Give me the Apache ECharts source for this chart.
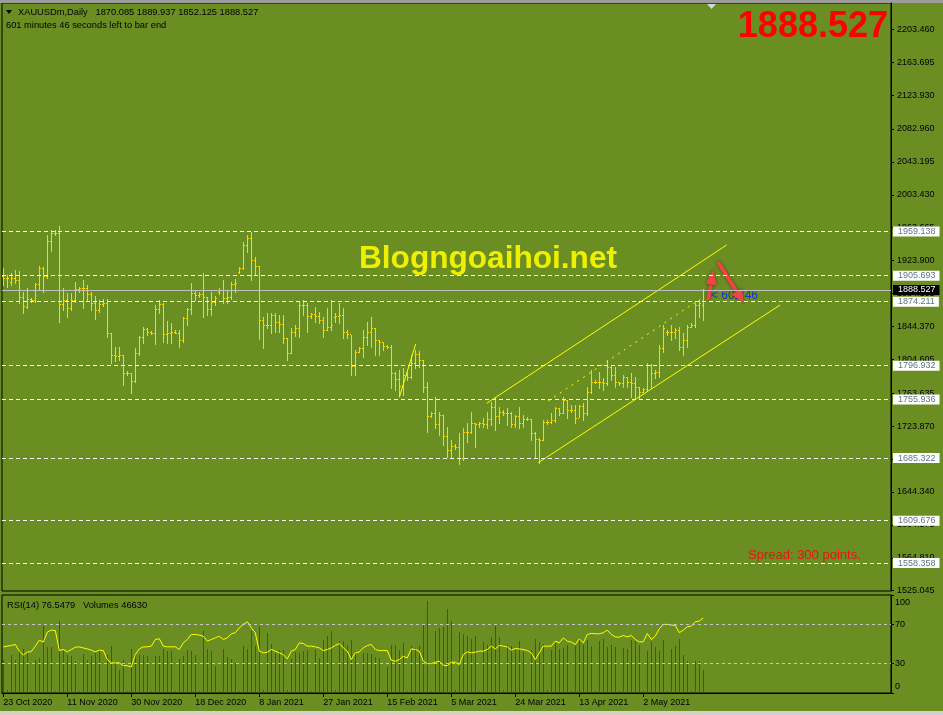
<!DOCTYPE html>
<html><head><meta charset="utf-8">
<script src="https://cdn.jsdelivr.net/npm/echarts@6/dist/echarts.min.js"></script>
<style>html,body{margin:0;padding:0;background:#6b8e23;}#c{width:943px;height:715px;}</style>
</head><body><div id="c"></div>
<script>
const tickLabels = ['23 Oct 2020','11 Nov 2020','30 Nov 2020','18 Dec 2020','8 Jan 2021','27 Jan 2021','15 Feb 2021','5 Mar 2021','24 Mar 2021','13 Apr 2021','2 May 2021'];
const tickIndex = [0,16,32,48,64,80,96,112,128,144,160];

const opens = [1905.0,1902.5,1898.5,1902.5,1900.5,1879.5,1868.0,1877.1,1876.3,1895.7,
1914.6,1905.3,1947.6,1956.9,1957.7,1871.5,1876.3,1866.3,1876.3,1889.2,
1890.4,1890.4,1883.6,1873.1,1864.2,1871.1,1872.3,1836.0,1809.9,1808.7,
1809.9,1787.7,1788.5,1778.8,1812.7,1831.2,1840.9,1838.1,1836.0,1865.0,
1871.5,1835.2,1836.9,1838.1,1836.9,1828.0,1854.2,1865.0,1885.2,1882.0,
1883.6,1880.4,1865.0,1874.3,1886.0,1888.4,1878.3,1879.5,1895.7,1910.6,
1914.6,1942.8,1950.8,1924.7,1917.4,1852.2,1846.1,1846.1,1858.2,1850.1,
1847.3,1830.0,1811.9,1838.1,1842.1,1870.3,1870.3,1857.0,1859.4,1857.0,
1852.2,1840.1,1844.1,1856.0,1857.0,1858.2,1838.1,1835.2,1796.6,1813.9,
1817.9,1831.2,1838.1,1842.1,1828.0,1826.0,1820.7,1819.9,1788.5,1780.5,
1772.4,1785.7,1783.7,1799.8,1811.1,1803.8,1771.6,1736.2,1739.4,1726.5,
1737.4,1712.0,1695.1,1700.0,1699.0,1685.0,1717.2,1717.2,1727.3,1726.5,
1727.3,1726.5,1732.1,1747.4,1736.2,1741.4,1739.4,1740.2,1726.5,1736.2,
1728.1,1732.1,1732.1,1715.2,1707.9,1707.1,1729.3,1729.3,1731.3,1745.4,
1739.4,1755.5,1743.4,1743.4,1733.3,1748.2,1739.4,1765.5,1777.6,1777.6,
1777.6,1775.6,1795.7,1785.7,1777.6,1775.6,1783.7,1777.6,1775.6,1771.6,
1765.5,1768.3,1797.7,1787.7,1789.7,1817.9,1838.0,1838.0,1838.1,1840.1,
1819.9,1828.0,1844.1,1846.1,1870.3,1870.085];

const highs = [1914.6,1906.5,1908.6,1912.6,1911.4,1886.4,1890.4,1878.3,1896.5,1917.4,
1916.6,1954.9,1960.9,1960.9,1965.7,1890.4,1885.2,1885.2,1898.5,1892.4,
1900.5,1894.5,1886.4,1881.2,1876.3,1877.1,1877.1,1836.0,1819.1,1819.1,
1809.9,1790.9,1788.5,1817.9,1832.8,1844.1,1842.1,1839.0,1870.3,1876.3,
1872.3,1851.4,1848.1,1840.1,1840.1,1856.2,1866.3,1896.5,1888.4,1886.4,
1908.6,1880.4,1886.4,1881.2,1890.4,1900.5,1887.6,1898.5,1901.3,1915.8,
1946.8,1954.9,1958.9,1928.7,1917.4,1856.2,1860.2,1860.2,1860.2,1858.2,
1858.2,1830.0,1842.1,1846.1,1874.3,1876.3,1872.3,1860.2,1868.3,1862.2,
1856.2,1866.3,1876.3,1860.2,1872.3,1866.3,1840.0,1834.0,1815.9,1819.9,
1840.1,1850.2,1856.2,1843.0,1828.0,1826.0,1822.0,1822.0,1789.0,1791.7,
1793.8,1789.7,1809.9,1815.9,1815.1,1803.8,1777.6,1741.4,1759.5,1741.4,
1737.4,1723.3,1707.2,1702.0,1715.2,1721.3,1727.3,1741.4,1727.3,1729.3,
1733.3,1741.4,1753.5,1757.5,1747.4,1743.0,1745.4,1741.4,1737.4,1747.4,
1737.4,1734.5,1733.0,1717.2,1709.0,1731.3,1731.0,1739.4,1747.4,1745.4,
1759.5,1755.5,1749.0,1749.4,1749.4,1751.4,1771.6,1791.7,1779.6,1789.7,
1781.6,1803.8,1797.8,1795.7,1777.6,1785.7,1783.7,1787.7,1783.7,1771.6,
1769.6,1799.8,1799.0,1791.7,1821.9,1846.1,1840.1,1846.1,1842.1,1844.1,
1836.0,1846.1,1848.1,1872.3,1876.3,1889.937];

const lows = [1894.5,1892.0,1894.5,1896.5,1872.3,1860.2,1866.3,1874.3,1874.3,1888.4,
1886.4,1902.5,1935.9,1954.9,1850.1,1864.2,1856.2,1864.2,1874.3,1886.4,
1866.3,1876.3,1864.2,1853.0,1862.0,1869.5,1832.0,1800.6,1803.0,1803.8,
1773.6,1785.7,1764.3,1777.0,1810.0,1824.0,1834.0,1835.0,1823.2,1860.2,
1826.0,1824.0,1824.0,1836.5,1819.9,1826.0,1846.1,1860.0,1876.3,1880.0,
1855.4,1858.2,1858.2,1870.3,1884.0,1872.3,1872.3,1877.1,1886.4,1908.6,
1913.4,1934.7,1900.5,1906.5,1828.8,1817.9,1842.1,1837.0,1838.1,1838.1,
1824.0,1803.8,1811.9,1832.8,1832.0,1858.2,1838.1,1855.0,1850.0,1848.1,
1832.0,1840.1,1840.1,1850.2,1848.1,1830.0,1830.0,1785.7,1785.7,1813.9,
1807.9,1822.0,1819.9,1809.9,1809.9,1816.0,1817.9,1769.6,1767.6,1761.5,
1761.5,1779.7,1781.7,1793.8,1795.8,1765.6,1717.2,1735.3,1721.3,1713.2,
1701.1,1687.0,1687.0,1696.0,1678.1,1683.0,1705.0,1715.0,1699.1,1723.3,
1723.3,1721.3,1725.3,1719.2,1727.3,1737.0,1725.3,1723.3,1723.3,1722.1,
1723.3,1731.3,1707.1,1685.0,1679.7,1707.1,1727.0,1727.3,1729.3,1737.4,
1739.4,1733.3,1741.0,1727.3,1735.3,1731.3,1737.4,1763.5,1775.6,1769.6,
1767.6,1773.6,1779.6,1771.6,1773.6,1771.6,1771.6,1759.5,1757.5,1757.5,
1765.5,1766.0,1771.6,1781.6,1783.7,1813.9,1834.0,1828.0,1830.0,1815.9,
1809.8,1819.9,1844.1,1844.1,1856.2,1852.125];

const closes = [1902.5,1902.5,1902.5,1900.5,1879.5,1869.1,1877.1,1876.3,1895.7,1914.6,
1905.3,1947.6,1956.9,1957.7,1871.5,1876.3,1866.3,1876.3,1889.2,1890.4,
1890.4,1883.6,1873.1,1864.2,1871.1,1872.3,1836.0,1809.9,1808.7,1809.9,
1787.7,1788.5,1778.8,1812.7,1831.2,1840.9,1838.1,1836.0,1865.0,1871.5,
1835.2,1836.9,1838.1,1836.9,1828.0,1854.2,1865.0,1885.2,1882.0,1883.6,
1880.4,1865.0,1874.3,1878.3,1888.4,1878.3,1879.5,1895.7,1896.5,1914.6,
1942.8,1950.8,1924.7,1917.4,1852.2,1846.1,1846.1,1858.2,1850.1,1847.3,
1830.0,1811.9,1838.1,1842.1,1870.3,1870.3,1857.0,1859.4,1857.0,1852.2,
1840.1,1844.1,1846.1,1857.0,1858.2,1838.1,1835.2,1796.6,1813.9,1817.9,
1831.2,1838.1,1842.1,1828.0,1826.0,1820.7,1819.9,1788.5,1780.5,1772.4,
1785.7,1783.7,1799.8,1811.1,1803.8,1771.6,1736.2,1739.4,1726.5,1737.4,
1712.0,1695.1,1700.0,1699.0,1685.0,1717.2,1717.2,1727.3,1726.5,1727.3,
1726.5,1732.1,1747.4,1736.2,1741.4,1739.4,1740.2,1726.5,1736.2,1728.1,
1732.1,1732.1,1715.2,1707.9,1707.1,1729.3,1729.3,1731.3,1745.4,1739.4,
1755.5,1743.4,1743.4,1733.3,1748.2,1739.4,1765.5,1777.6,1777.6,1777.6,
1775.6,1795.7,1785.7,1777.6,1775.6,1783.7,1777.6,1775.6,1771.6,1765.5,
1768.3,1797.7,1787.7,1789.7,1817.9,1842.1,1838.0,1838.1,1840.1,1819.9,
1828.0,1844.1,1846.1,1870.3,1872.3,1888.527];

const volumes = [67230,5490,77520,67230,89180,90550,83690,3430,68600,72030,
137200,93980,93980,3430,148860,85750,78890,75460,65170,3430,
80950,68600,76830,82320,89180,3430,78890,96040,63110,48020,
68600,3430,91240,78890,78890,78890,75460,3430,76830,75460,
90550,85750,85750,3430,70660,75460,89180,85750,78890,3430,
126910,91240,85750,56250,3430,90550,73400,69970,61740,3430,
96040,91240,126910,97410,137200,5490,123480,100840,82320,89180,
87810,6860,69970,83690,82320,85750,89180,3430,89180,72030,
109760,116620,126910,6860,106330,106330,99470,109760,85750,3430,
82320,82320,80950,73400,72030,3430,52820,99470,99470,87810,
102900,3430,97410,92610,97410,140630,188650,3430,128280,133770,
135140,173560,148860,5490,125540,122110,116620,111130,117990,3430,
104270,99470,114560,137200,114560,5490,99470,96040,89180,106330,
83690,3430,89180,111130,104270,101530,5490,89180,102900,90550,
92610,99470,3430,97410,111130,99470,109760,97410,3430,106330,
111130,93980,99470,94670,3430,92610,91240,108390,107700,99470,
3430,85750,104270,93980,87120,109760,3430,91240,96040,111820,
78890,65170,3430,65170,65170,46630];

const rsi = [47.1,47.8,48.5,49.5,42.7,38.9,41.6,42.3,47.8,53.9,
51.9,62.1,64.2,63.8,43.3,44.4,42.0,44.4,46.7,47.1,
46.0,45.0,43.7,42.0,43.7,43.3,34.1,30.7,30.7,30.7,
27.9,27.9,26.6,39.2,45.0,47.1,47.1,47.8,54.6,55.3,
47.8,47.1,47.1,47.1,44.4,51.2,54.6,59.7,59.7,59.1,
58.0,52.9,54.6,56.3,58.0,54.6,56.3,60.4,61.5,66.6,
70.0,72.7,66.6,61.5,42.7,41.0,41.6,44.4,42.7,41.0,
39.2,34.8,42.7,44.4,51.2,50.5,47.8,47.8,47.1,46.0,
43.3,44.4,46.0,48.5,50.5,46.0,42.7,34.1,41.0,42.0,
46.0,48.5,49.5,44.4,43.3,43.3,43.3,33.4,32.4,34.1,
37.5,35.8,45.0,44.4,42.7,32.4,30.0,30.0,31.4,32.4,
28.3,27.9,31.4,31.4,29.0,39.2,42.0,41.0,41.6,42.7,
42.7,44.4,47.8,45.0,48.5,47.8,47.1,43.7,45.4,45.0,
44.4,43.3,41.0,34.1,41.0,47.8,47.8,47.8,52.9,51.2,
56.3,52.9,51.9,49.5,55.3,51.2,59.7,60.8,60.4,60.4,
61.5,64.2,59.7,57.3,57.0,58.7,57.3,58.7,54.6,52.2,
52.2,60.8,54.6,58.0,65.6,70.0,70.0,69.3,69.0,61.5,
64.2,67.6,68.3,72.7,73.4,76.55];

const priceTicks = [2203.460,2163.695,2123.930,2082.960,2043.195,2003.430,1963.665,1923.900,1884.135,1844.370,1804.605,1763.635,1723.870,1684.105,1644.340,1604.575,1564.810,1525.045];
const rsiTicks = [0,30,70,100];
const rsiLevels = [70,30];
const levelLines = [1959.138,1905.693,1874.211,1796.932,1755.936,1685.322,1609.676,1558.358];
const lastPrice = 1888.527;
const upperChannel = [[120.85,1751.5],[180.85,1942.8]];
const lowerChannel = [[133.75,1679.7],[194.2,1870.3]];
const midDotted = [[136.25,1754.3],[174.2,1877.5]];
const febLine = [[99.0,1758.7],[103.1,1823.1]];

const F = '"Liberation Sans", Arial, sans-serif';
const X_MIN = -0.325, X_MAX = 221.925;
const BAR = '#FFD700';

const ohlcData = opens.map((o, i) => [i, o, highs[i], lows[i], closes[i]]);
const volData = volumes.map((v, i) => [i, v, (i > 0 && v > volumes[i-1]) ? 1 : 0]);
const rsiData = rsi.map((v, i) => [i, v]);

const chart = echarts.init(document.getElementById('c'), null, {renderer: 'canvas', width: 943, height: 715});

function ohlcItem(params, api) {
  const i = api.value(0);
  const o = api.coord([i, api.value(1)]);
  const h = api.coord([i, api.value(2)]);
  const l = api.coord([i, api.value(3)]);
  const c = api.coord([i, api.value(4)]);
  const x = Math.floor(o[0]);
  const yh = Math.round(h[1]), yl = Math.round(l[1]);
  return {type: 'group', children: [
    {type: 'rect', shape: {x: x, y: yh, width: 1, height: Math.max(1, yl - yh + 1)}, style: {fill: BAR}},
    {type: 'rect', shape: {x: x - 1, y: Math.round(o[1]), width: 1, height: 1}, style: {fill: BAR}},
    {type: 'rect', shape: {x: x + 1, y: Math.round(c[1]), width: 1, height: 1}, style: {fill: BAR}}
  ]};
}
function volItem(params, api) {
  const i = api.value(0);
  const top = api.coord([i, api.value(1)]);
  const bot = api.coord([i, 0]);
  const x = Math.floor(top[0]);
  const yt = Math.round(top[1]);
  return {type: 'rect', shape: {x: x, y: yt, width: 1, height: Math.round(bot[1]) - yt}, style: {fill: api.value(2) ? '#008000' : '#ff0000'}};
}

const option = {
  backgroundColor: '#6b8e23',
  animation: false,
  grid: [
    {left: 2, right: 52, top: 3, height: 588, show: true, borderColor: '#000', borderWidth: 1},
    {left: 2, right: 52, top: 595, height: 98, show: true, borderColor: '#000', borderWidth: 1}
  ],
  xAxis: [
    {type: 'value', gridIndex: 0, min: X_MIN, max: X_MAX, show: false, axisLine: {onZero: false}},
    {type: 'value', gridIndex: 1, min: X_MIN, max: X_MAX, splitLine: {show: false},
      axisLine: {show: true, onZero: false, lineStyle: {color: '#000'}},
      axisTick: {show: true, customValues: tickIndex, length: 4, lineStyle: {color: '#000'}},
      axisLabel: {customValues: tickIndex, formatter: v => tickLabels[tickIndex.indexOf(Math.round(v))] || '',
        align: 'left', margin: 5, fontSize: 9, fontFamily: F, color: '#000'}}
  ],
  yAxis: [
    {type: 'value', gridIndex: 0, min: 1524.66, max: 2235.24, position: 'right', splitLine: {show: false},
      axisLine: {show: true, onZero: false, lineStyle: {color: '#000'}},
      axisTick: {show: true, customValues: priceTicks, length: 3, lineStyle: {color: '#000'}},
      axisLabel: {customValues: priceTicks, formatter: v => v.toFixed(3), margin: 6, fontSize: 9, fontFamily: F, color: '#000'}},
    {type: 'value', gridIndex: 1, min: 0, max: 100, position: 'right', splitLine: {show: false},
      axisLine: {show: true, onZero: false, lineStyle: {color: '#000'}},
      axisTick: {show: true, customValues: rsiTicks, length: 3, lineStyle: {color: '#000'}},
      axisLabel: {customValues: rsiTicks, margin: 4, fontSize: 9, fontFamily: F, color: '#000',
        formatter: v => v >= 99 ? '{t|100}' : (v <= 1 ? '{b|0}' : String(Math.round(v))),
        rich: {t: {padding: [15, 0, 0, 0], fontSize: 9, fontFamily: F, color: '#000'},
               b: {padding: [0, 0, 13, 0], fontSize: 9, fontFamily: F, color: '#000'}}}},
    {type: 'value', gridIndex: 1, min: 0, max: 201700, show: false, axisLine: {onZero: false}}
  ],
  series: [
    {type: 'line', xAxisIndex: 0, yAxisIndex: 0, data: [], z: 1, silent: true,
      markLine: {silent: true, symbol: 'none', animation: false,
        data: levelLines.map(v => ({yAxis: v, name: v.toFixed(3)})),
        lineStyle: {color: '#ffffff', type: [4, 3], width: 1},
        label: {position: 'end', distance: 2, formatter: p => p.name,
          backgroundColor: '#ffffff', color: '#5f7686', fontSize: 9, fontFamily: F, padding: [1, 4, 0, 5], lineHeight: 9}}},
    {type: 'custom', xAxisIndex: 0, yAxisIndex: 0, data: ohlcData, renderItem: ohlcItem, z: 2, silent: true,
      encode: {x: 0, y: [1, 2, 3, 4]}},
    {type: 'line', xAxisIndex: 0, yAxisIndex: 0, data: [], z: 3, silent: true,
      markLine: {silent: true, symbol: 'none', animation: false,
        data: [{yAxis: lastPrice, name: lastPrice.toFixed(3)}],
        lineStyle: {color: '#c0c0c0', type: 'solid', width: 1},
        label: {position: 'end', distance: 2, formatter: p => p.name,
          backgroundColor: '#000000', color: '#ffffff', fontSize: 9, fontFamily: F, padding: [1, 4, 0, 5], lineHeight: 9}}},
    {type: 'line', xAxisIndex: 0, yAxisIndex: 0, data: upperChannel, symbol: 'none', z: 4, silent: true,
      lineStyle: {color: '#ffff00', width: 1}},
    {type: 'line', xAxisIndex: 0, yAxisIndex: 0, data: lowerChannel, symbol: 'none', z: 4, silent: true,
      lineStyle: {color: '#ffff00', width: 1}},
    {type: 'line', xAxisIndex: 0, yAxisIndex: 0, data: midDotted, symbol: 'none', z: 4, silent: true,
      lineStyle: {color: '#ffff00', width: 1, type: [2, 5]}},
    {type: 'line', xAxisIndex: 0, yAxisIndex: 0, data: febLine, symbol: 'none', z: 4, silent: true,
      lineStyle: {color: '#ffff00', width: 1}},
    {type: 'custom', xAxisIndex: 1, yAxisIndex: 2, data: volData, renderItem: volItem, z: 2, silent: true,
      encode: {x: 0, y: 1}},
    {type: 'line', xAxisIndex: 1, yAxisIndex: 1, data: rsiData, symbol: 'none', z: 3, silent: true,
      lineStyle: {color: '#ffff00', width: 1},
      markLine: {silent: true, symbol: 'none', animation: false, data: rsiLevels.map(v => ({yAxis: v})),
        lineStyle: {color: '#c8c8c8', type: [3, 3], width: 1}, label: {show: false}}}
  ],
  graphic: [
    {type: 'rect', shape: {x: 0, y: 0, width: 943, height: 3}, style: {fill: '#9c9c9c'}, silent: true},
    {type: 'rect', shape: {x: 0, y: 711, width: 943, height: 4}, style: {fill: '#d4d0c8'}, silent: true},
    {type: 'polygon', shape: {points: [[707, 4], [716, 4], [711.5, 9]]}, style: {fill: '#d8d8d8'}, silent: true},
    {type: 'polygon', shape: {points: [[6, 10], [12, 10], [9, 14]]}, style: {fill: '#000'}, silent: true},
    {type: 'text', x: 18, y: 12, silent: true, style: {text: 'XAUUSDm,Daily   1870.085 1889.937 1852.125 1888.527', font: '9.3px ' + F, fill: '#000', verticalAlign: 'middle'}},
    {type: 'text', x: 6, y: 25, silent: true, style: {text: '601 minutes 46 seconds left to bar end', font: '9.3px ' + F, fill: '#000', verticalAlign: 'middle'}},
    {type: 'text', x: 7, y: 605, silent: true, style: {text: 'RSI(14) 76.5479   Volumes 46630', font: '9.3px ' + F, fill: '#000', verticalAlign: 'middle'}},
    {type: 'text', x: 888, y: 27, silent: true, style: {text: '1888.527', font: 'bold 36px ' + F, fill: '#ff0000', align: 'right', verticalAlign: 'middle'}},
    {type: 'text', x: 359, y: 259, silent: true, style: {text: 'Blogngoaihoi.net', font: 'bold 31.6px ' + F, fill: '#eef000', verticalAlign: 'middle',
      shadowColor: 'rgba(30,40,0,0.8)', shadowBlur: 3, shadowOffsetX: 2, shadowOffsetY: 2}},
    {type: 'text', x: 711, y: 296, silent: true, style: {text: '< 601:46', font: '12px ' + F, fill: '#1e32d2', verticalAlign: 'middle'}},
    {type: 'text', x: 748, y: 555, silent: true, style: {text: 'Spread: 300 points.', font: '13px ' + F, fill: '#ee1111', verticalAlign: 'middle'}},
    {type: 'line', shape: {x1: 708, y1: 300, x2: 711, y2: 284}, style: {stroke: '#f04545', lineWidth: 4, shadowColor: 'rgba(0,0,0,0.5)', shadowBlur: 3}, silent: true},
    {type: 'polygon', shape: {points: [[713.5, 269], [705.6, 283.5], [716.6, 285.5]]}, style: {fill: '#f04545', shadowColor: 'rgba(0,0,0,0.5)', shadowBlur: 3}, silent: true},
    {type: 'line', shape: {x1: 718, y1: 262, x2: 736, y2: 290.5}, style: {stroke: '#f04545', lineWidth: 4, shadowColor: 'rgba(0,0,0,0.5)', shadowBlur: 3}, silent: true},
    {type: 'polygon', shape: {points: [[744, 303], [741.5, 288], [731.5, 294.5]]}, style: {fill: '#f04545', shadowColor: 'rgba(0,0,0,0.5)', shadowBlur: 3}, silent: true}
  ]
};
chart.setOption(option);
</script>
</body></html>
